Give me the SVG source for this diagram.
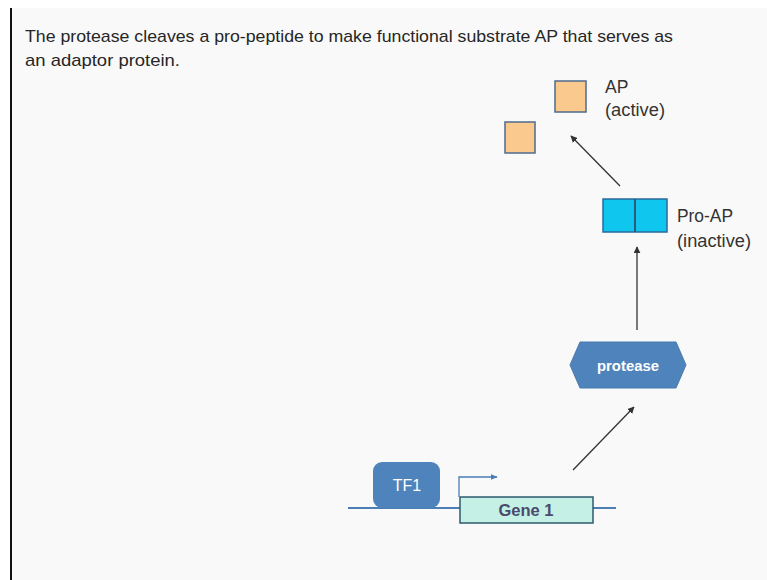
<svg xmlns="http://www.w3.org/2000/svg" width="767" height="580" viewBox="0 0 767 580">
<defs>
<style>
.t{font-family:"Liberation Sans",Arial,sans-serif;font-size:17px;fill:#262626}
.lbl{font-family:"Liberation Sans",Arial,sans-serif;font-size:17.5px;fill:#333}
.conn{stroke:#333;stroke-width:1.3;fill:none}
.ap{fill:#f9c98e;stroke:#4e6a8c;stroke-width:1.5}
.pro{fill:#0ec6ee;stroke:#2a6a9a;stroke-width:1.5}
</style>
<marker id="ah" viewBox="0 0 10 10" refX="9" refY="5" markerWidth="7" markerHeight="7" orient="auto-start-reverse" markerUnits="userSpaceOnUse">
<path d="M0,0 L10,5 L0,10 z" fill="#333"/>
</marker>
<marker id="ahb" viewBox="0 0 10 10" refX="9" refY="5" markerWidth="7" markerHeight="7" orient="auto" markerUnits="userSpaceOnUse">
<path d="M0,1 L10,5 L0,9 z" fill="#4a7eb5"/>
</marker>
</defs>
<rect x="0" y="0" width="767" height="580" fill="#ffffff"/>
<rect x="12" y="8" width="755" height="572" fill="#f9f9f9"/>
<line x1="11" y1="8" x2="11" y2="580" stroke="#111" stroke-width="2"/>
<g id="title">
<text class="t" x="25" y="42" textLength="648" lengthAdjust="spacingAndGlyphs">The protease cleaves a pro-peptide to make functional substrate AP that serves as</text>
<text class="t" x="25" y="66" textLength="155" lengthAdjust="spacingAndGlyphs">an adaptor protein.</text>
</g>
<g id="ap-active">
<rect class="ap" x="555" y="81" width="31" height="31"/>
<rect class="ap" x="505" y="122" width="30" height="31"/>
<text class="lbl" x="605" y="93">AP</text>
<text class="lbl" x="605" y="116" textLength="60" lengthAdjust="spacingAndGlyphs">(active)</text>
</g>
<g id="pro-ap">
<rect class="pro" x="603" y="199" width="64" height="33"/>
<line x1="635" y1="199" x2="635" y2="232" stroke="#2a5a80" stroke-width="2"/>
<text class="lbl" x="677" y="222" textLength="56" lengthAdjust="spacingAndGlyphs">Pro-AP</text>
<text class="lbl" x="677" y="247" textLength="74" lengthAdjust="spacingAndGlyphs">(inactive)</text>
</g>
<g id="protease">
<polygon points="570,365 580,342 676,342 686,365 676,388 580,388" fill="#4f83bb" stroke="#4a7ab0" stroke-width="1"/>
<text x="628" y="371" text-anchor="middle" font-family="'Liberation Sans',Arial,sans-serif" font-size="15" font-weight="bold" fill="#fff" textLength="62" lengthAdjust="spacingAndGlyphs">protease</text>
</g>
<g id="gene">
<line x1="348" y1="508" x2="616" y2="508" stroke="#4a7eb5" stroke-width="2"/>
<rect x="460" y="497" width="133" height="26" fill="#c4f0e6" stroke="#2e5a6e" stroke-width="1.5"/>
<text x="526" y="516" text-anchor="middle" font-family="'Liberation Sans',Arial,sans-serif" font-size="16" font-weight="bold" fill="#4a4a6a" textLength="55" lengthAdjust="spacingAndGlyphs">Gene 1</text>
<polyline points="459,497 459,477 497,477" fill="none" stroke="#4a7eb5" stroke-width="1.3" marker-end="url(#ahb)"/>
</g>
<g id="tf1">
<rect x="373" y="462" width="67" height="46" rx="9" fill="#4f83bb"/>
<text x="407" y="491" text-anchor="middle" font-family="'Liberation Sans',Arial,sans-serif" font-size="16" fill="#fff">TF1</text>
</g>
<g id="connectors">
<line class="conn" x1="620" y1="186" x2="571" y2="136" marker-end="url(#ah)"/>
<line class="conn" x1="637" y1="330" x2="637" y2="247" marker-end="url(#ah)"/>
<line class="conn" x1="573" y1="470" x2="634" y2="407" marker-end="url(#ah)"/>
</g>
</svg>
